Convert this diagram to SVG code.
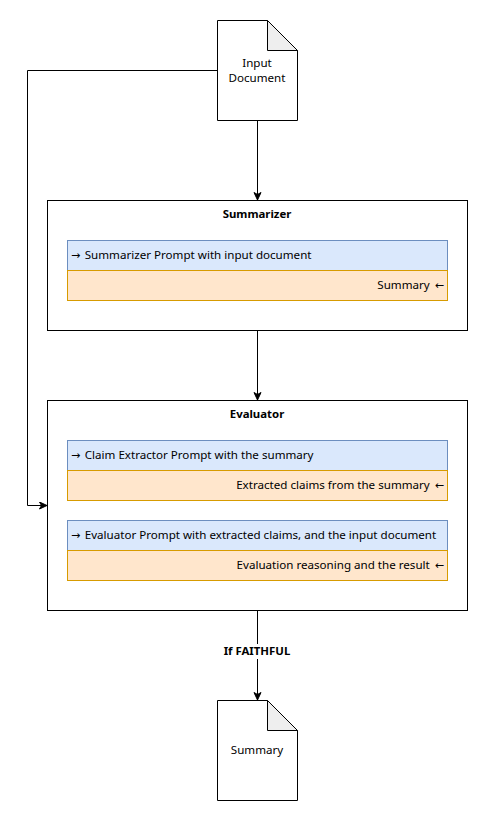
<svg xmlns="http://www.w3.org/2000/svg" width="488" height="821" viewBox="0 0 488 821">
<defs>
<marker id="a" markerUnits="userSpaceOnUse" markerWidth="10" markerHeight="10" refX="8" refY="4" orient="auto"><path d="M0.5 0.5L8 4L0.5 7.500L2.500 4Z" fill="#000" stroke="#000"/></marker>
<style>
text{font-family:"Noto Sans",sans-serif;font-size:11.6px;fill:#000}
.b{font-weight:700;text-anchor:middle;font-size:11.4px}
.m{text-anchor:middle}
.e{text-anchor:end}
.ar{font-family:"DejaVu Sans",sans-serif;font-size:11px}
.box{fill:#fff;stroke:#000;stroke-width:1}
.blue{fill:#dae8fc;stroke:#6c8ebf}
.org{fill:#ffe6cc;stroke:#d79b00}
.fold{fill:#eee;stroke:#000}
.c{fill:none;stroke:#000;stroke-width:1;marker-end:url(#a)}
</style>
</defs>
<rect width="488" height="821" fill="#fff"/>
<g id="connectors">
<path class="c" d="M257.500 120.500V200"/>
<path class="c" d="M217.500 70.500H27.500V505.500H47"/>
<path class="c" d="M257.500 330.500V400"/>
<path class="c" d="M257.500 610.500V700"/>
</g>
<g id="input-document">
<path class="box" d="M217.500 20.500H267.500L297.500 50.500V120.500H217.500Z"/>
<path class="fold" d="M267.500 20.500V50.500H297.500Z"/>
<text class="m" x="257" y="67">Input</text>
<text class="m" x="257" y="82">Document</text>
</g>
<g id="summarizer">
<rect class="box" x="47.500" y="200.500" width="420" height="130"/>
<text class="b" x="257" y="218">Summarizer</text>
<rect class="blue" x="67.500" y="240.500" width="380" height="30"/>
<text x="71" y="259"><tspan class="ar">→</tspan><tspan dx="1.500"> Summarizer Prompt with input document</tspan></text>
<rect class="org" x="67.500" y="270.500" width="380" height="30"/>
<text class="e" x="444" y="289">Summary <tspan class="ar" dx="2">←</tspan></text>
</g>
<g id="evaluator">
<rect class="box" x="47.500" y="400.500" width="420" height="210"/>
<text class="b" x="257" y="418">Evaluator</text>
<rect class="blue" x="67.500" y="440.500" width="380" height="30"/>
<text x="71" y="459"><tspan class="ar">→</tspan><tspan dx="1.500"> Claim Extractor Prompt with the summary</tspan></text>
<rect class="org" x="67.500" y="470.500" width="380" height="30"/>
<text class="e" x="444" y="489">Extracted claims from the summary <tspan class="ar" dx="2">←</tspan></text>
<rect class="blue" x="67.500" y="520.500" width="380" height="30"/>
<text x="71" y="539"><tspan class="ar">→</tspan><tspan dx="1.500"> Evaluator Prompt with extracted claims, and the input document</tspan></text>
<rect class="org" x="67.500" y="550.500" width="380" height="30"/>
<text class="e" x="444" y="569">Evaluation reasoning and the result <tspan class="ar" dx="2">←</tspan></text>
</g>
<g id="edge-label">
<rect x="222" y="644" width="70" height="15" fill="#fff"/>
<text class="b" x="257" y="655">If FAITHFUL</text>
</g>
<g id="summary">
<path class="box" d="M217.500 700.500H267.500L297.500 730.500V800.500H217.500Z"/>
<path class="fold" d="M267.500 700.500V730.500H297.500Z"/>
<text class="m" x="257" y="754">Summary</text>
</g>
</svg>
